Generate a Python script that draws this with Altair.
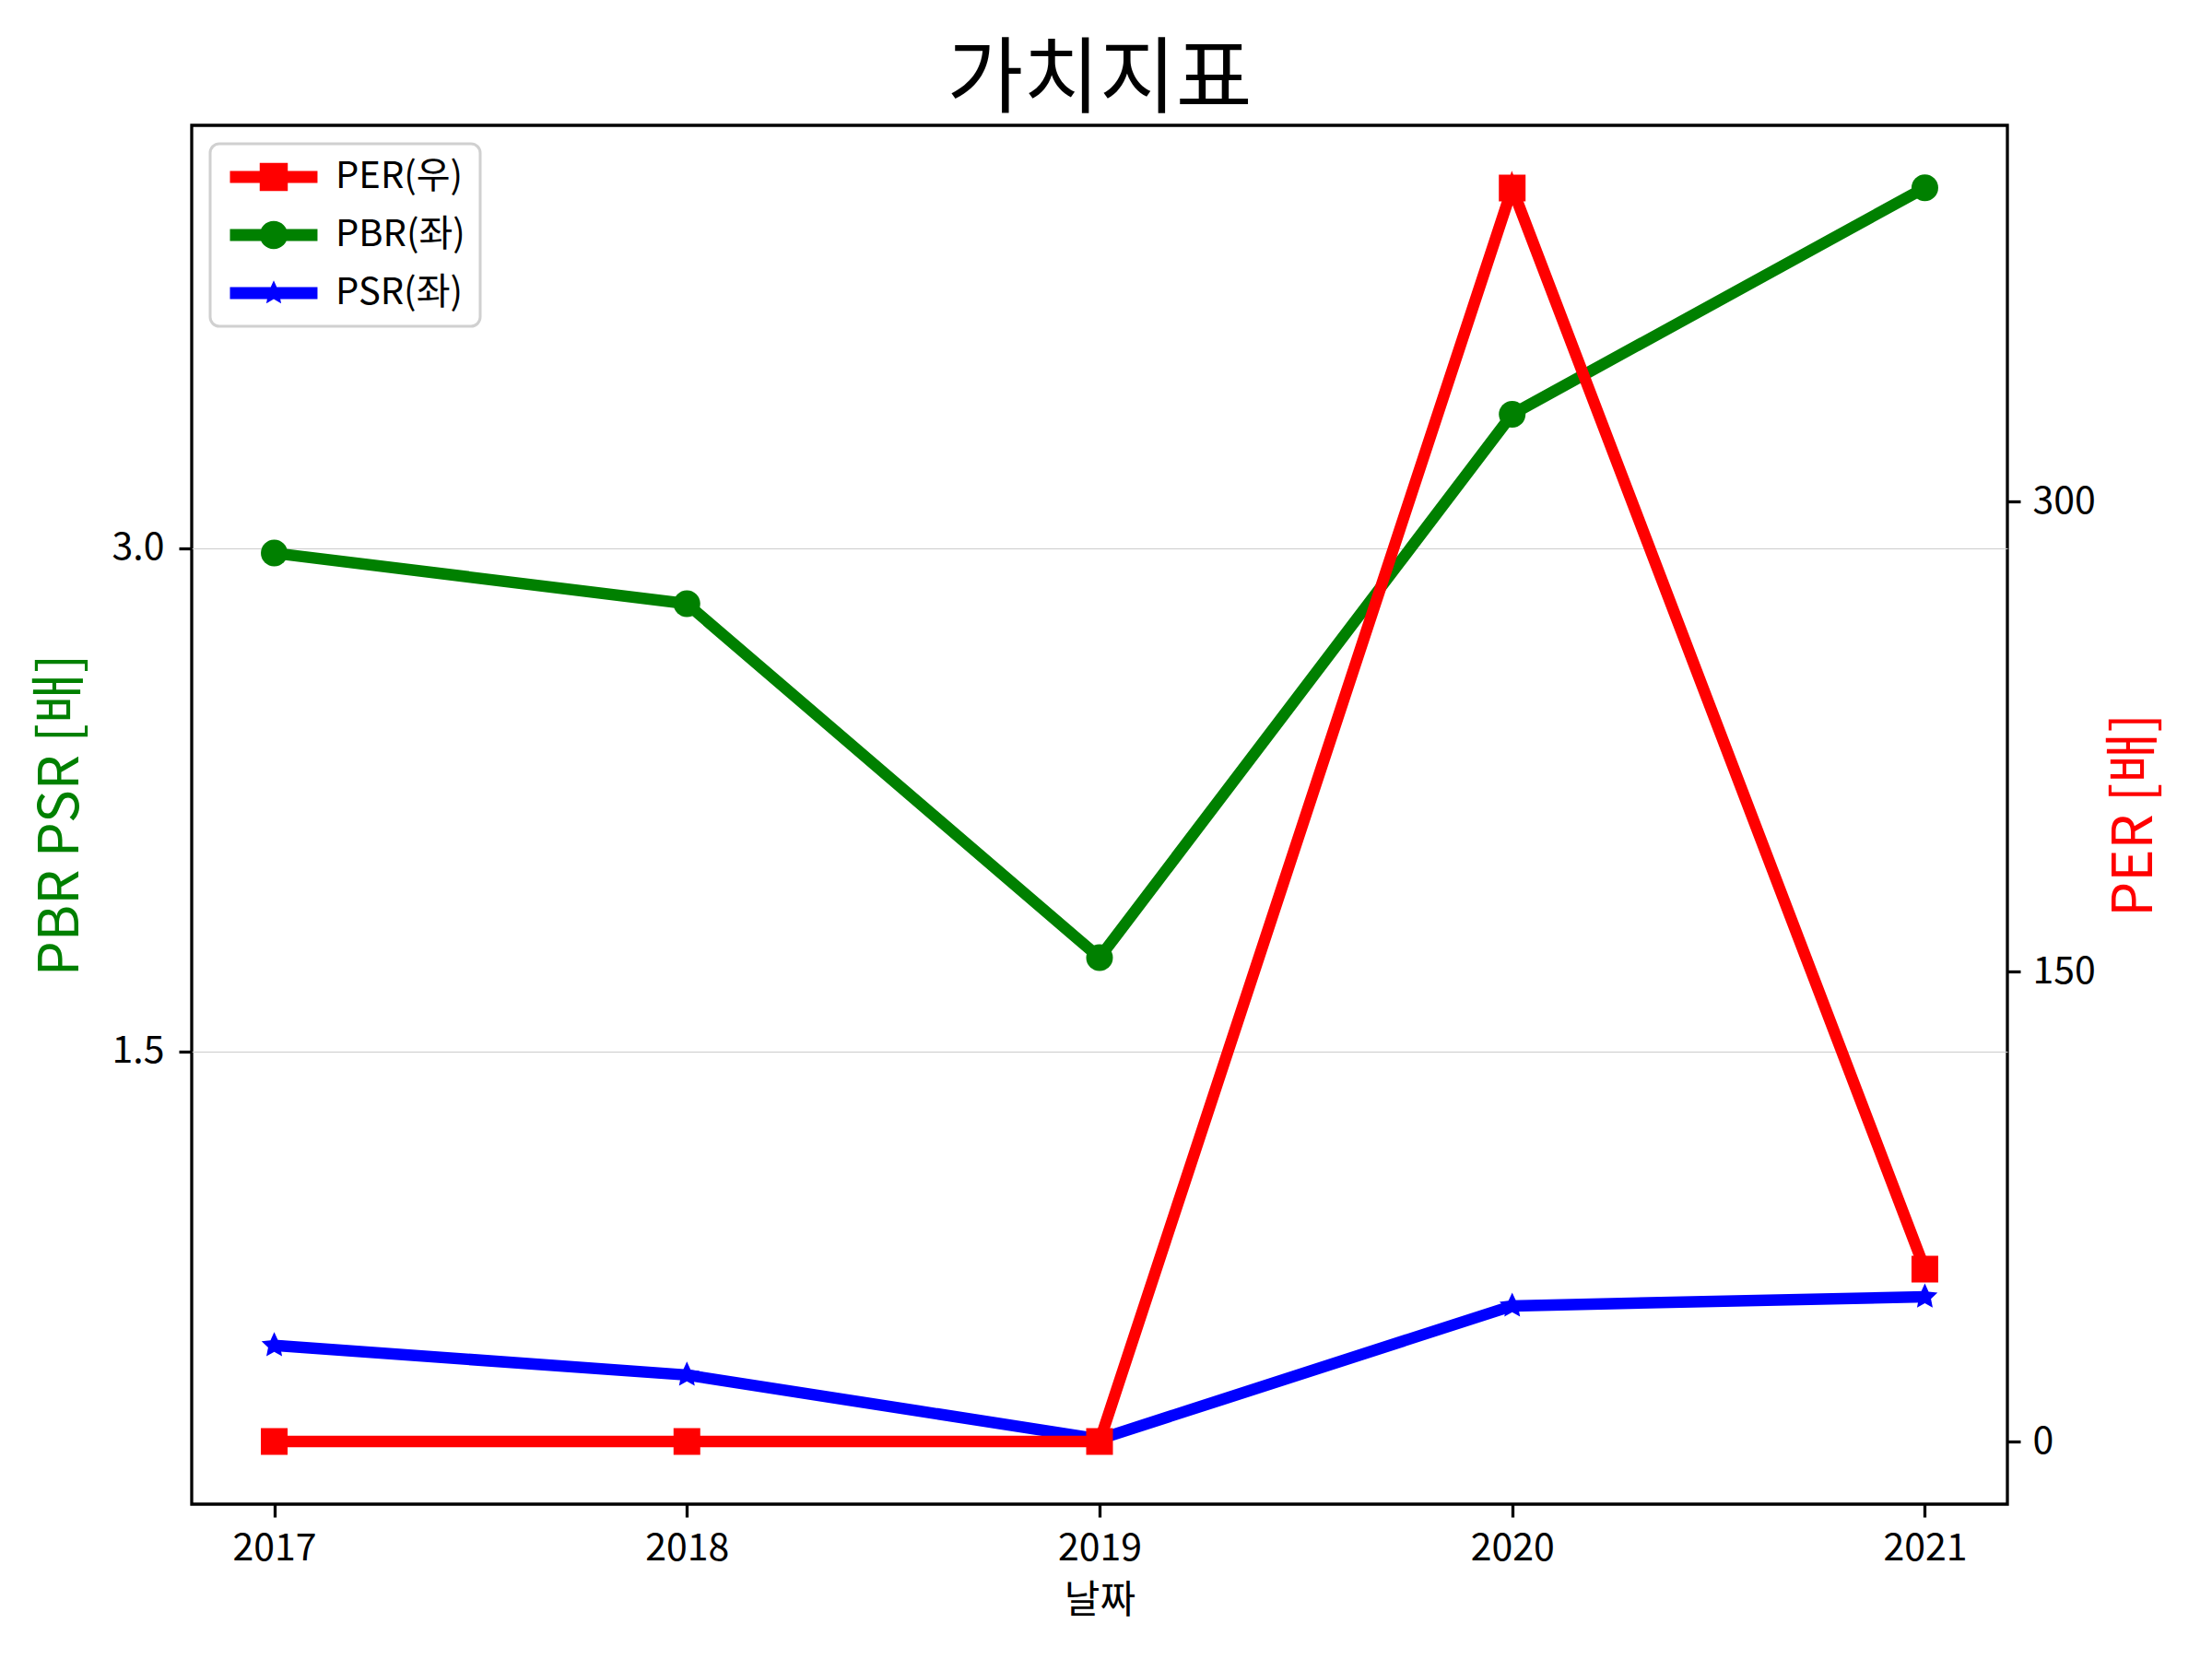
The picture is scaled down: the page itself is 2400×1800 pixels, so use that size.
import math
import altair as alt
import pandas as pd

# ---- data ----
years = [2017, 2018, 2019, 2020, 2021]
per_values = [0, 0, 0, 400, 55]
pbr_values = [2.986, 2.835, 1.78, 3.40, 4.075]
psr_values = [0.624, 0.536, 0.345, 0.742, 0.769]
series_names = ["PER(우)", "PBR(좌)", "PSR(좌)"]
series_colors = ["red", "green", "blue"]
left_ticks = [1.5, 3.0]
right_ticks = [0, 150, 300]

FONT = "Noto Sans CJK KR"

per_df = pd.DataFrame({"year": years, "value": per_values, "series": series_names[0]})
pbr_df = pd.DataFrame({"year": years, "value": pbr_values, "series": series_names[1]})
psr_df = pd.DataFrame({"year": years, "value": psr_values, "series": series_names[2]})
left_df = pd.concat([pbr_df, psr_df], ignore_index=True)

x_enc = alt.X(
    "year:Q",
    scale=alt.Scale(domain=[2016.8, 2021.2], nice=False, zero=False),
    axis=alt.Axis(values=years, format="d", title="날짜", grid=False,
                  labelPadding=14, titlePadding=16, titleFontSize=42),
)
left_y = alt.Y(
    "value:Q",
    scale=alt.Scale(domain=[0.151, 4.261], nice=False, zero=False),
    axis=alt.Axis(orient="left", values=left_ticks, format=".1f",
                  title="PBR PSR [배]", titleColor="green", titleFontSize=60,
                  grid=True, gridColor="#cccccc", gridWidth=1.2,
                  labelPadding=16, titlePadding=24),
)
right_y = alt.Y(
    "value:Q",
    scale=alt.Scale(domain=[-20, 420], nice=False, zero=False),
    axis=alt.Axis(orient="right", values=right_ticks, format="d",
                  title="PER [배]", titleColor="red", titleFontSize=60,
                  titleAngle=270, titleBaseline="top",
                  grid=False, labelPadding=13, titlePadding=14),
)

LW = 12.5
MS = 841  # marker size (29 px wide)


def line(df, color, y):
    return alt.Chart(df).mark_line(color=color, strokeWidth=LW).encode(x=x_enc, y=y)


def pts(df, color, shape, size, y):
    return alt.Chart(df).mark_point(color=color, shape=shape, size=size,
                                    filled=True, opacity=1, strokeWidth=0).encode(x=x_enc, y=y)


def star_path(cx, ro, ri):
    p = []
    for k in range(10):
        r = ro if k % 2 == 0 else ri
        a = math.radians(-90 + 36 * k)
        p.append(f"{cx + r*math.cos(a):.3f},{r*math.sin(a):.3f}")
    return "M" + "L".join(p) + "Z"


# ---- legend symbol paths (line with marker), unit = sqrt(symbolSize)/2 ----
LX0, LX1, LH, MC = -1.0, 5.55, 0.45, 2.276
base = f"M{LX0},{-LH}H{LX1}V{LH}H{LX0}Z"
sq = base + f" M{MC-1.05},-1.05H{MC+1.05}V1.05H{MC-1.05}Z"
circ = base + f" M{MC-1.05},0A1.05,1.05 0 0,1 {MC+1.05},0A1.05,1.05 0 0,1 {MC-1.05},0Z"
star_leg = base + " " + star_path(MC, 0.95, 0.45)
star_mark = star_path(0, 1.0, 0.48)

# invisible layer that only carries the legend (its points sit outside the clipped view)
legend_layer = alt.Chart(left_df).transform_calculate(
    yr="datum.year - 100"
).mark_point(filled=True, size=MS, clip=True, opacity=1, strokeWidth=0).encode(
    x=alt.X("yr:Q", scale=alt.Scale(domain=[2016.8, 2021.2], nice=False, zero=False)),
    y=left_y,
    color=alt.Color("series:N",
                    scale=alt.Scale(domain=series_names, range=series_colors),
                    legend=alt.Legend(title=None, orient="top-left", offset=20,
                                      symbolSize=MS, symbolOpacity=1, symbolStrokeWidth=0,
                                      labelFontSize=40, labelFont=FONT, labelOffset=80,
                                      rowPadding=23, padding=16, fillColor="white")),
    shape=alt.Shape("series:N",
                    scale=alt.Scale(domain=series_names, range=[sq, circ, star_leg]),
                    legend=alt.Legend(title=None)),
)

left = alt.layer(
    line(pbr_df, "green", left_y),
    pts(pbr_df, "green", "circle", MS, left_y),
    line(psr_df, "blue", left_y),
    pts(psr_df, "blue", star_mark, MS, left_y),
    legend_layer,
)
right = alt.layer(
    line(per_df, "red", right_y),
    pts(per_df, "red", "square", MS, right_y),
)

chart = (
    alt.layer(left, right)
    .resolve_scale(y="independent")
    .properties(
        width=1970,
        height=1496,
        padding={"left": 208, "top": 136, "right": 222, "bottom": 168},
        autosize=alt.AutoSizeParams(type="none"),
        title=alt.Title("가치지표", fontSize=90, font=FONT, fontWeight="normal",
                        anchor="middle", offset=2, color="black"),
        background="white",
    )
    .configure_view(stroke="black", strokeWidth=3.3)
    .configure_axis(domain=False, tickColor="black", tickSize=14, tickWidth=3.3,
                    labelFont=FONT, labelFontSize=41, labelColor="black",
                    titleFont=FONT, titleFontWeight="normal", titleColor="black")
    .configure_legend(strokeColor="#d0d0d0", strokeWidth=3, cornerRadius=10)
)

chart.save("out.html", embed_options={"renderer": "svg", "actions": False})
